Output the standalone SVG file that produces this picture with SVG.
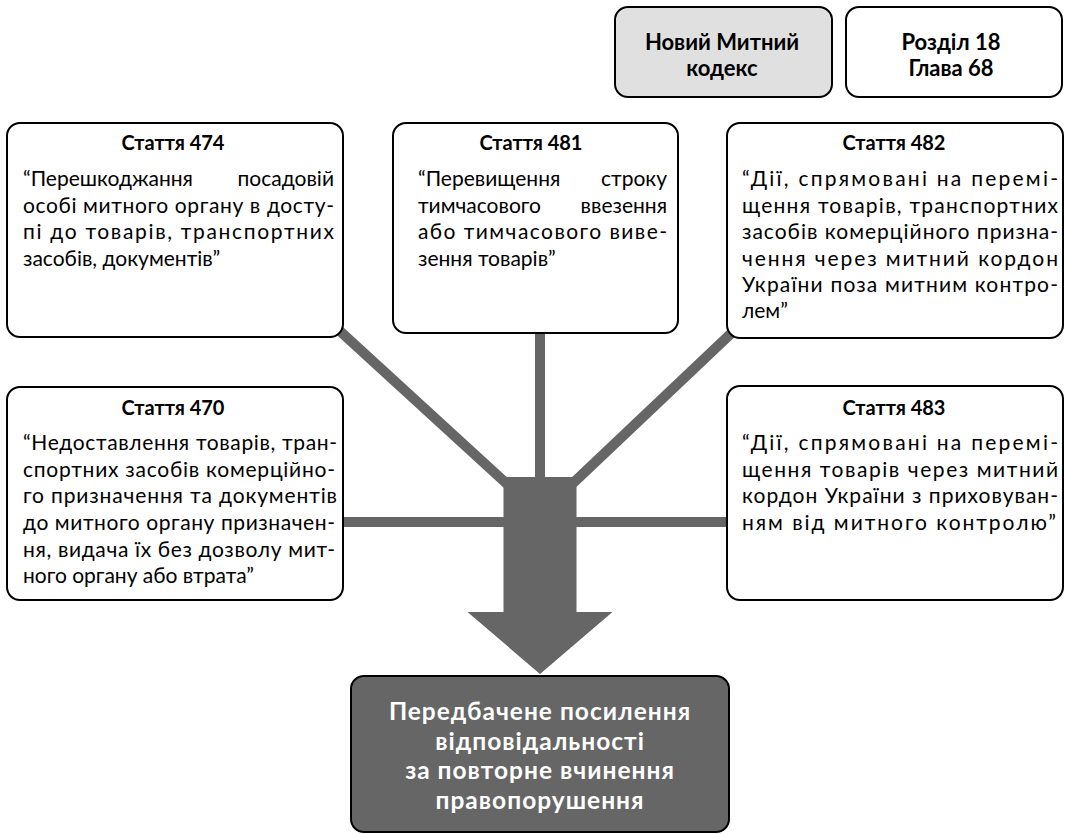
<svg xmlns="http://www.w3.org/2000/svg" width="1065" height="835" viewBox="0 0 1065 835">
<style>
.box{fill:#fff;stroke:#000;stroke-width:2}
.code{fill:#e0e0e0;stroke:#000;stroke-width:2}
.res{fill:#666;stroke:#000;stroke-width:2}
.conn{stroke:#666;stroke-width:10;fill:none}
text{font-family:Lato,"Open Sans","Noto Sans",sans-serif;fill:#000}
.hd{font-weight:bold;font-size:22px;text-anchor:middle}
.tt{font-weight:bold;font-size:20px;text-anchor:middle}
.bd{font-size:21px}
.rs{font-weight:bold;font-size:24.5px;letter-spacing:1px;text-anchor:middle;fill:#fff}
</style>
<g id="connectors">
<line class="conn" x1="330" y1="322" x2="530" y2="505"/>
<line class="conn" x1="740" y1="325" x2="550" y2="505"/>
<line class="conn" x1="540" y1="330" x2="540" y2="490"/>
<line class="conn" x1="340" y1="522" x2="730" y2="522"/>
<polygon fill="#666" points="503.5,477 576.5,477 576.5,612 612.5,612 540,674 467.5,612 503.5,612"/>
</g>
<g id="node-code">
<rect class="code" x="615" y="7" width="217" height="90" rx="13"/>
<text class="hd" x="722" y="49.5">Новий Митний</text>
<text class="hd" x="722" y="76">кодекс</text>
</g>
<g id="node-section">
<rect class="box" x="846" y="7" width="216" height="90" rx="13"/>
<text class="hd" x="951" y="49.5">Розділ 18</text>
<text class="hd" x="951" y="76">Глава 68</text>
</g>
<g id="node-474">
<rect class="box" x="7" y="123" width="336" height="214" rx="13"/>
<text class="tt" x="173" y="150">Стаття 474</text>
<text class="bd" y="186"><tspan x="23">“Перешкоджання</tspan><tspan x="334" text-anchor="end">посадовій</tspan></text>
<text class="bd" x="23" y="212.5" textLength="311" lengthAdjust="spacing">особі митного органу в досту-</text>
<text class="bd" x="23" y="239" textLength="311" lengthAdjust="spacing">пі до товарів, транспортних</text>
<text class="bd" x="23" y="265.5">засобів, документів”</text>
</g>
<g id="node-481">
<rect class="box" x="393" y="123" width="285" height="210" rx="13"/>
<text class="tt" x="531" y="150">Стаття 481</text>
<text class="bd" y="186"><tspan x="418">“Перевищення</tspan><tspan x="667" text-anchor="end">строку</tspan></text>
<text class="bd" y="212.5"><tspan x="418">тимчасового</tspan><tspan x="667" text-anchor="end">ввезення</tspan></text>
<text class="bd" x="418" y="239" textLength="249" lengthAdjust="spacing">або тимчасового виве-</text>
<text class="bd" x="418" y="265.5">зення товарів”</text>
</g>
<g id="node-482">
<rect class="box" x="727" y="123" width="336" height="215" rx="13"/>
<text class="tt" x="894" y="150">Стаття 482</text>
<text class="bd" x="742" y="186" textLength="316" lengthAdjust="spacing">“Дії, спрямовані на перемі-</text>
<text class="bd" x="742" y="212.5" textLength="316" lengthAdjust="spacing">щення товарів, транспортних</text>
<text class="bd" x="742" y="239" textLength="316" lengthAdjust="spacing">засобів комерційного призна-</text>
<text class="bd" x="742" y="265.5" textLength="316" lengthAdjust="spacing">чення через митний кордон</text>
<text class="bd" x="742" y="292" textLength="316" lengthAdjust="spacing">України поза митним контро-</text>
<text class="bd" x="742" y="318">лем”</text>
</g>
<g id="node-470">
<rect class="box" x="7" y="387" width="336" height="213" rx="13"/>
<text class="tt" x="173" y="415">Стаття 470</text>
<text class="bd" x="23" y="450" textLength="314" lengthAdjust="spacing">“Недоставлення товарів, тран-</text>
<text class="bd" x="23" y="476.7" textLength="312" lengthAdjust="spacing">спортних засобів комерційно-</text>
<text class="bd" x="23" y="503.3" textLength="314" lengthAdjust="spacing">го призначення та документів</text>
<text class="bd" x="23" y="530" textLength="312" lengthAdjust="spacing">до митного органу призначен-</text>
<text class="bd" x="23" y="556.7" textLength="312" lengthAdjust="spacing">ня, видача їх без дозволу мит-</text>
<text class="bd" x="23" y="583.3">ного органу або втрата”</text>
</g>
<g id="node-483">
<rect class="box" x="727" y="386" width="336" height="214" rx="13"/>
<text class="tt" x="894" y="415">Стаття 483</text>
<text class="bd" x="742" y="450" textLength="316" lengthAdjust="spacing">“Дії, спрямовані на перемі-</text>
<text class="bd" x="742" y="476.7" textLength="316" lengthAdjust="spacing">щення товарів через митний</text>
<text class="bd" x="742" y="503.3" textLength="316" lengthAdjust="spacing">кордон України з приховуван-</text>
<text class="bd" x="742" y="530" textLength="314" lengthAdjust="spacing">ням від митного контролю”</text>
</g>
<g id="node-result">
<rect class="res" x="351" y="676" width="378" height="156" rx="13"/>
<text class="rs" x="540" y="720">Передбачене посилення</text>
<text class="rs" x="540" y="749.5">відповідальності</text>
<text class="rs" x="540" y="779">за повторне вчинення</text>
<text class="rs" x="540" y="808.5">правопорушення</text>
</g>
</svg>
